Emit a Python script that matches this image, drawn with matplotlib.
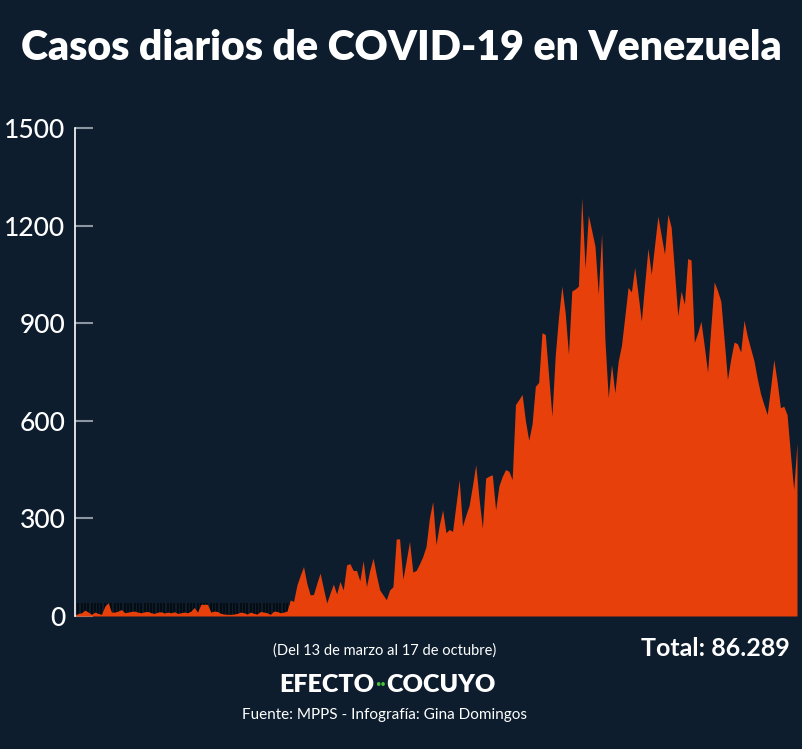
import numpy as np
import matplotlib
matplotlib.use("Agg")
import matplotlib.pyplot as plt

# Casos diarios, 13 de marzo (dia 0) al 17 de octubre (dia 218)
casos = [
    2, 8, 10, 18, 12, 5, 12, 8, 5, 30, 41, 12, 12, 15, 20, 10, 12, 14, 15, 12,
    10, 13, 14, 10, 8, 12, 13, 9, 12, 10, 13, 8, 10, 12, 10, 15, 26, 12, 36, 36,
    36, 12, 15, 14, 8, 6, 5, 5, 6, 8, 12, 10, 6, 12, 8, 6, 14, 12, 10, 5,
    15, 14, 10, 12, 15, 49, 45, 95, 125, 152, 100, 65, 66, 100, 132, 85, 40, 70, 98, 68,
    106, 80, 157, 161, 140, 140, 108, 170, 90, 140, 178, 125, 80, 65, 50, 80, 90, 237, 237, 113,
    170, 229, 135, 140, 160, 183, 214, 300, 352, 219, 280, 326, 256, 266, 260, 340, 419, 276, 310, 340,
    400, 465, 360, 270, 424, 430, 434, 326, 400, 429, 450, 445, 419, 650, 665, 681, 600, 540, 590, 706,
    718, 871, 865, 740, 614, 800, 920, 1014, 933, 804, 999, 1005, 1014, 1286, 1069, 1232, 1185, 1137, 989, 1176,
    850, 671, 773, 686, 782, 832, 920, 1010, 996, 1072, 990, 906, 1020, 1130, 1050, 1140, 1229, 1170, 1112, 1235,
    1195, 1060, 922, 999, 958, 1099, 1094, 841, 870, 906, 830, 749, 890, 1027, 1000, 968, 850, 727, 790, 842,
    837, 811, 909, 860, 822, 785, 730, 683, 650, 619, 700, 788, 720, 640, 645, 619, 500, 388, 532,
]
dias = np.arange(len(casos))
yticks = [0, 300, 600, 900, 1200, 1500]
titulo = "Casos diarios de COVID-19 en Venezuela"
periodo = "(Del 13 de marzo al 17 de octubre)"
total = "Total: 86.289"
fuente = "Fuente: MPPS - Infografía: Gina Domingos"

bg = "#0d1d2d"
naranja = "#e8400a"

fig = plt.figure(figsize=(8.02, 7.49), dpi=100, facecolor=bg)
ax = fig.add_axes([75 / 802, 1 - 616 / 749, 722 / 802, 488 / 749])
ax.set_facecolor(bg)

# rayitas oscuras al inicio de la serie
primeros = dias[dias <= 65]
ax.vlines(primeros, 0, 40, color="#03070b", lw=1.1, zorder=1)
ax.fill_between(dias, casos, color=naranja, lw=0, zorder=2)

ax.set_xlim(0, dias[-1])
ax.set_ylim(0, 1500)
ax.set_xticks([])
ax.set_yticks(yticks)
ax.set_yticklabels([str(t) for t in yticks])
for s in ["top", "right", "bottom"]:
    ax.spines[s].set_visible(False)
ax.spines["left"].set_color("white")
ax.spines["left"].set_linewidth(1.2)
ax.tick_params(axis="y", direction="in", length=13, width=1.5, color="#8c96a0",
               pad=7, labelcolor="white", labelsize=19)
for lab in ax.get_yticklabels():
    lab.set_family("Lato")
    lab.set_fontweight("medium")
ax.yaxis.get_major_ticks()[-1].tick1line.set_color("white")

fig.text(0.5, 1 - 48 / 749, titulo, ha="center", va="center", color="white",
         fontsize=29.5, fontweight="heavy", family="Lato")
fig.text(385 / 802, 1 - 651 / 749, periodo, ha="center", va="center", color="white",
         fontsize=10.5, family="Lato")
fig.text(790 / 802, 1 - 648 / 749, total, ha="right", va="center", color="white",
         fontsize=18, fontweight="bold", family="Lato")
fig.text(374 / 802, 1 - 685 / 749, "EFECTO", ha="right", va="center", color="white",
         fontsize=18, fontweight="heavy", family="Lato")
fig.text(380 / 802, 1 - 684 / 749, "··", ha="center", va="center", color="#4cc23a",
         fontsize=14, fontweight="bold", family="Lato")
fig.text(386 / 802, 1 - 685 / 749, "COCUYO", ha="left", va="center", color="white",
         fontsize=18, fontweight="heavy", family="Lato")
fig.text(385 / 802, 1 - 715 / 749, fuente, ha="center", va="center", color="white",
         fontsize=11, family="Lato")

fig.savefig("out.png", dpi=100, facecolor=bg)
